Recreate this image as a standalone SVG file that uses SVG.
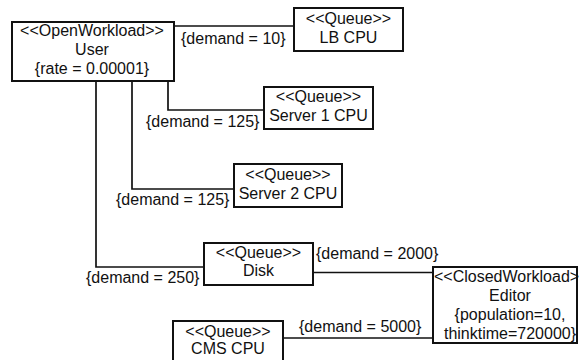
<svg xmlns="http://www.w3.org/2000/svg" width="579" height="360" viewBox="0 0 579 360">
<style>
.box{fill:#fff;stroke:#111;stroke-width:2}
.c{fill:none;stroke:#111;stroke-width:1.7}
text{font-family:"Liberation Sans",Arial,sans-serif;font-size:16px;fill:#111}
.m{text-anchor:middle}
</style>
<rect width="579" height="360" fill="#fff"/>
<g id="connectors">
<polyline class="c" points="174,26 294,26"/>
<polyline class="c" points="168,81 168,110 264,110"/>
<polyline class="c" points="132,81 132,189 234,189"/>
<polyline class="c" points="96,81 96,267 204,267"/>
<polyline class="c" points="313,272.5 433,272.5"/>
<polyline class="c" points="283,338 433,338"/>
<text x="181" y="44">{demand = 10}</text>
<text x="146" y="127">{demand = 125}</text>
<text x="116" y="205">{demand = 125}</text>
<text x="86" y="283">{demand = 250}</text>
<text x="316" y="259">{demand = 2000}</text>
<text x="299" y="332">{demand = 5000}</text>
</g>
<g id="user">
<rect class="box" x="12" y="22" width="162" height="59"/>
<text class="m" x="92" y="35.5">&lt;&lt;OpenWorkload&gt;&gt;</text>
<text class="m" x="92" y="54.5">User</text>
<text class="m" x="92" y="73.5">{rate = 0.00001}</text>
</g>
<g id="lbcpu">
<rect class="box" x="294" y="8" width="109" height="43"/>
<text class="m" x="348.5" y="23.5">&lt;&lt;Queue&gt;&gt;</text>
<text class="m" x="348.5" y="42.5">LB CPU</text>
</g>
<g id="server1">
<rect class="box" x="264" y="87" width="109" height="42"/>
<text class="m" x="318.5" y="102">&lt;&lt;Queue&gt;&gt;</text>
<text class="m" x="318.5" y="121">Server 1 CPU</text>
</g>
<g id="server2">
<rect class="box" x="234" y="164" width="108" height="43"/>
<text class="m" x="288" y="179.5">&lt;&lt;Queue&gt;&gt;</text>
<text class="m" x="288" y="198.5">Server 2 CPU</text>
</g>
<g id="disk">
<rect class="box" x="204" y="243" width="109" height="42"/>
<text class="m" x="258.5" y="257.5">&lt;&lt;Queue&gt;&gt;</text>
<text class="m" x="258.5" y="276">Disk</text>
</g>
<g id="editor">
<rect class="box" x="433" y="267" width="144" height="76"/>
<text x="434" y="282">&lt;&lt;ClosedWorkload&gt;&gt;</text>
<text class="m" x="510" y="301">Editor</text>
<text class="m" x="510" y="320">{population=10,</text>
<text class="m" x="510" y="339">thinktime=720000}</text>
</g>
<g id="cmscpu">
<rect class="box" x="173" y="321" width="110" height="45"/>
<text class="m" x="228" y="336.5">&lt;&lt;Queue&gt;&gt;</text>
<text class="m" x="228" y="354">CMS CPU</text>
</g>
</svg>
